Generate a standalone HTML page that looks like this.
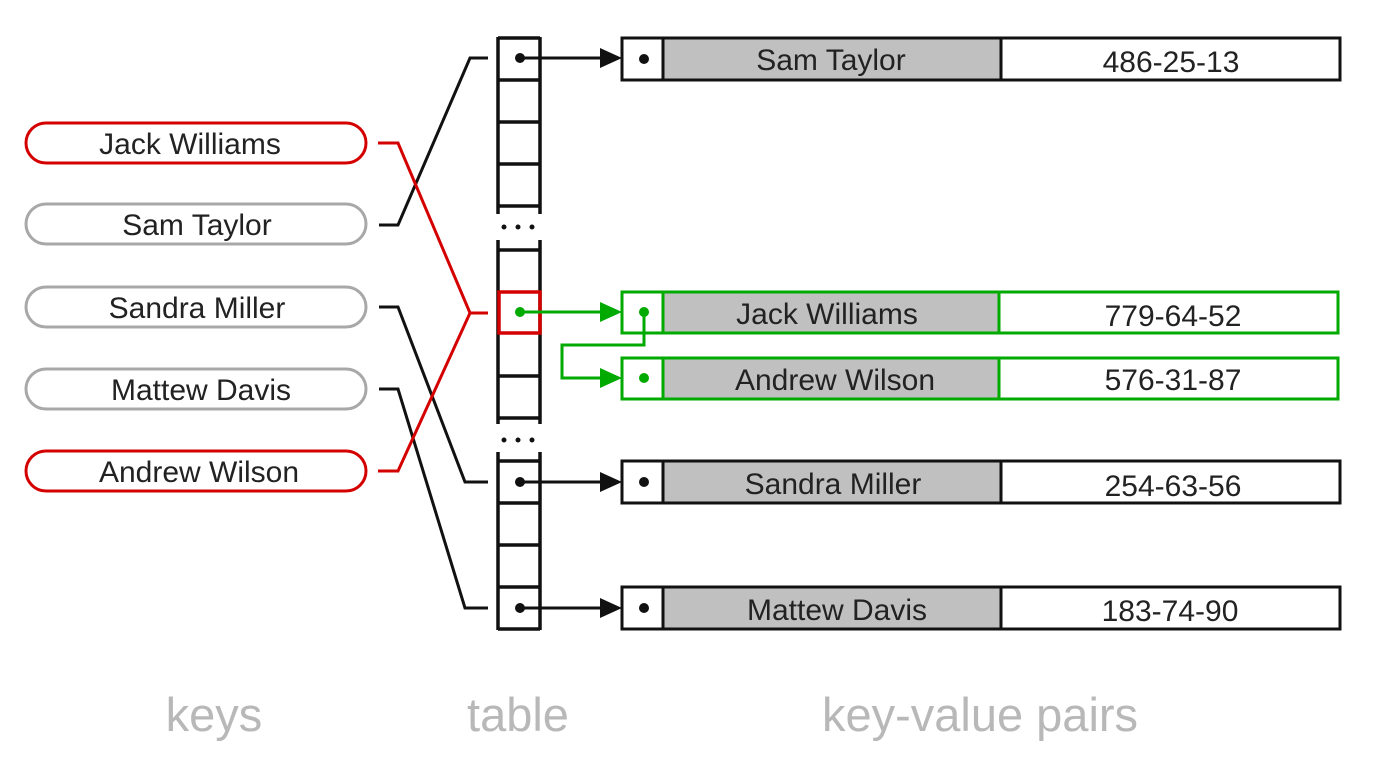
<!DOCTYPE html>
<html><head><style>
html,body{margin:0;padding:0;background:#fff;}
svg{display:block;}
text{font-family:"Liberation Sans",Arial,sans-serif;}
</style></head><body>
<svg width="1388" height="774" viewBox="0 0 1388 774" xmlns="http://www.w3.org/2000/svg">
<g stroke-width="3" fill="#fff">
<rect x="26" y="123" width="340" height="40" rx="20" stroke="#d40000"/>
<rect x="26" y="204" width="340" height="40" rx="20" stroke="#a8a8a8"/>
<rect x="26" y="287" width="340" height="40" rx="20" stroke="#a8a8a8"/>
<rect x="26" y="369" width="340" height="40" rx="20" stroke="#a8a8a8"/>
<rect x="26" y="451" width="340" height="40" rx="20" stroke="#d40000"/>
</g>
<g font-size="30" fill="#222" text-anchor="middle">
<text x="190" y="154">Jack Williams</text>
<text x="197" y="235">Sam Taylor</text>
<text x="197" y="318">Sandra Miller</text>
<text x="201" y="400">Mattew Davis</text>
<text x="199" y="482">Andrew Wilson</text>
</g>
<g fill="none" stroke-width="3">
<polyline points="379,225 398,225 470,58 488,58" stroke="#111"/>
<polyline points="379,307 398,307 465,482 488,482" stroke="#111"/>
<polyline points="379,389 398,389 465,608 488,608" stroke="#111"/>
<polyline points="378,143 398,143 470,313 488,313" stroke="#d40000"/>
<polyline points="378,471 398,471 470,313" stroke="#d40000"/>
</g>
<g stroke="#111" stroke-width="3.5" fill="none">
<line x1="498" y1="37" x2="498" y2="214"/><line x1="540" y1="37" x2="540" y2="214"/>
<line x1="498" y1="38" x2="540" y2="38"/><line x1="498" y1="80" x2="540" y2="80"/>
<line x1="498" y1="122" x2="540" y2="122"/><line x1="498" y1="164" x2="540" y2="164"/>
<line x1="498" y1="206" x2="540" y2="206"/>
<line x1="498" y1="240" x2="498" y2="424"/><line x1="540" y1="240" x2="540" y2="424"/>
<line x1="498" y1="250" x2="540" y2="250"/><line x1="498" y1="376" x2="540" y2="376"/>
<line x1="498" y1="418" x2="540" y2="418"/>
<line x1="498" y1="452" x2="498" y2="630"/><line x1="540" y1="452" x2="540" y2="630"/>
<line x1="498" y1="461" x2="540" y2="461"/><line x1="498" y1="503" x2="540" y2="503"/>
<line x1="498" y1="545" x2="540" y2="545"/><line x1="498" y1="587" x2="540" y2="587"/>
<line x1="498" y1="629" x2="540" y2="629"/>
</g>
<rect x="499" y="292" width="41" height="41" fill="none" stroke="#d40000" stroke-width="3.5"/>
<g fill="#111">
<circle cx="504" cy="227" r="2.5"/><circle cx="518" cy="227" r="2.5"/><circle cx="532" cy="227" r="2.5"/>
<circle cx="504" cy="440" r="2.5"/><circle cx="518" cy="440" r="2.5"/><circle cx="532" cy="440" r="2.5"/>
</g>
<g stroke="#111" stroke-width="3" fill="#111">
<circle cx="520" cy="58" r="5" stroke="none"/><line x1="520" y1="58" x2="602" y2="58"/><polygon points="600,48 622,58 600,68" stroke="none"/>
<circle cx="520" cy="482" r="5" stroke="none"/><line x1="520" y1="482" x2="602" y2="482"/><polygon points="600,472 622,482 600,492" stroke="none"/>
<circle cx="520" cy="608" r="5" stroke="none"/><line x1="520" y1="608" x2="602" y2="608"/><polygon points="600,598 622,608 600,618" stroke="none"/>
</g>
<g stroke-width="3">
<g stroke="#111">
<rect x="622" y="38" width="41" height="42" fill="#fff"/><rect x="663" y="38" width="338" height="42" fill="#c0c0c0"/><rect x="1001" y="38" width="339" height="42" fill="#fff"/>
<rect x="622" y="461" width="41" height="42" fill="#fff"/><rect x="663" y="461" width="338" height="42" fill="#c0c0c0"/><rect x="1001" y="461" width="339" height="42" fill="#fff"/>
<rect x="622" y="587" width="41" height="42" fill="#fff"/><rect x="663" y="587" width="338" height="42" fill="#c0c0c0"/><rect x="1001" y="587" width="339" height="42" fill="#fff"/>
</g>
<g stroke="#00aa00">
<rect x="622" y="292" width="41" height="41" fill="#fff"/><rect x="663" y="292" width="336" height="41" fill="#c0c0c0"/><rect x="999" y="292" width="339" height="41" fill="#fff"/>
<rect x="622" y="358" width="41" height="41" fill="#fff"/><rect x="663" y="358" width="336" height="41" fill="#c0c0c0"/><rect x="999" y="358" width="339" height="41" fill="#fff"/>
</g>
</g>
<g fill="#111">
<circle cx="644" cy="59" r="5"/><circle cx="644" cy="482" r="5"/><circle cx="644" cy="608" r="5"/>
</g>
<g stroke="#00aa00" stroke-width="3" fill="#00aa00">
<circle cx="520" cy="312" r="5" stroke="none"/><line x1="520" y1="312" x2="602" y2="312"/><polygon points="600,302 622,312 600,322" stroke="none"/>
<circle cx="644" cy="312" r="5" stroke="none"/><circle cx="644" cy="378" r="5" stroke="none"/>
<polyline points="644,312 644,345 562,345 562,378 602,378" fill="none"/><polygon points="600,368 622,378 600,388" stroke="none"/>
</g>
<g font-size="30" fill="#222" text-anchor="middle">
<text x="831" y="70">Sam Taylor</text><text x="1171" y="72">486-25-13</text>
<text x="827" y="324">Jack Williams</text><text x="1173" y="326">779-64-52</text>
<text x="835" y="390">Andrew Wilson</text><text x="1173" y="390">576-31-87</text>
<text x="833" y="494">Sandra Miller</text><text x="1173" y="496">254-63-56</text>
<text x="837" y="620">Mattew Davis</text><text x="1170" y="621">183-74-90</text>
</g>
<g font-size="47" fill="#b8b8b8" text-anchor="middle">
<text x="214" y="731">keys</text>
<text x="518" y="731">table</text>
<text x="980" y="731">key-value pairs</text>
</g>
</svg>
</body></html>
